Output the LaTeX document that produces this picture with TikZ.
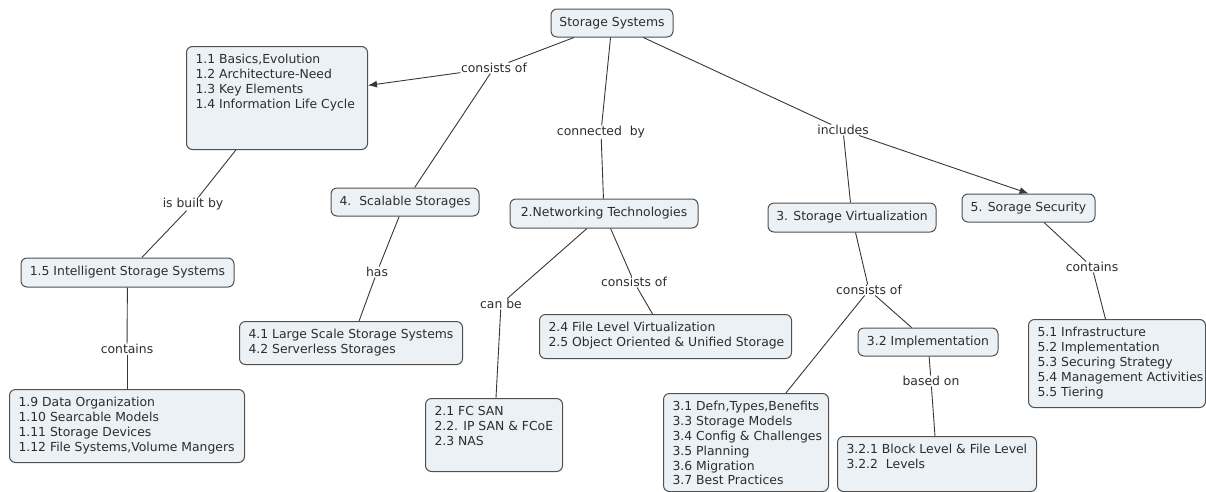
\documentclass[tikz,border=0pt]{standalone}
\usepackage{fontspec}
\setmainfont{DejaVu Sans}
\usetikzlibrary{arrows.meta}
\definecolor{boxfill}{RGB}{235,241,244}
\definecolor{boxline}{RGB}{80,80,80}
\definecolor{txt}{RGB}{45,45,45}
\definecolor{linec}{RGB}{55,55,55}
\newcommand{\lst}[3]{\parbox[c][#2pt][t]{#1pt}{\vspace*{7pt}\begin{tabular}{@{}l@{}}#3\end{tabular}}}
\tikzset{
  concept/.style={draw=boxline, fill=boxfill, rounded corners=6pt, line width=1pt, text=txt, inner sep=0pt},
  single/.style={concept, align=center},
  multi/.style={concept, anchor=north west, inner xsep=9pt, inner ysep=0pt},
  lbl/.style={text=txt, inner sep=0.5pt},
  link/.style={draw=linec, line width=0.9pt},
  arr/.style={link, -{Latex[length=9pt,width=7pt]}}
}
\begin{document}
\begin{tikzpicture}[x=1pt, y=-1pt, font=\fontsize{12.4}{14.8}\selectfont]
\useasboundingbox (0,0) rectangle (1206,491);
\begin{scope}
\clip (0,0) rectangle (1206,491);
% concepts
\node[single, minimum width=122pt, minimum height=28pt] (ss) at (612,23) {Storage Systems};
\node[multi] (b11) at (186,46) {\lst{163}{103}{1.1 Basics,Evolution\\1.2 Architecture-Need\\1.3 Key Elements\\1.4 Information Life Cycle}};
\node[single, minimum width=213pt, minimum height=29pt] (b15) at (127.5,272.5) {1.5 Intelligent Storage Systems};
\node[multi] (b19) at (9,389) {\lst{217}{73}{1.9 Data Organization\\1.10 Searcable Models\\1.11 Storage Devices\\1.12 File Systems,Volume Mangers}};
\node[single, minimum width=148pt, minimum height=28pt] (scal) at (405,202) {4.\ \ Scalable Storages};
\node[multi] (b41) at (239,321) {\lst{205}{43}{4.1 Large Scale Storage Systems\\4.2 Serverless Storages}};
\node[single, minimum width=188pt, minimum height=29pt] (net) at (604,213.5) {2.Networking Technologies};
\node[multi] (b21) at (425,398) {\lst{119}{73}{2.1 FC SAN\\2.2. IP SAN \& FCoE\\2.3 NAS}};
\node[multi] (b24) at (539,314) {\lst{234}{44}{2.4 File Level Virtualization\\2.5 Object Oriented \& Unified Storage}};
\node[single, minimum width=168pt, minimum height=29pt] (sv) at (852,217.5) {3. Storage Virtualization};
\node[single, minimum width=133pt, minimum height=28pt] (sec) at (1028.5,208) {5. Sorage Security};
\node[multi] (b31) at (663,393) {\lst{147}{98}{3.1 Defn,Types,Benefits\\3.3 Storage Models\\3.4 Config \& Challenges\\3.5 Planning\\3.6 Migration\\3.7 Best Practices}};
\node[single, minimum width=140pt, minimum height=28pt] (impl) at (928,342) {3.2 Implementation};
\node[multi] (b321) at (837,436) {\lst{181}{55}{3.2.1 Block Level \& File Level\\3.2.2\ \ Levels}};
\node[multi] (b51) at (1028,319) {\lst{159}{88}{5.1 Infrastructure\\5.2 Implementation\\5.3 Securing Strategy\\5.4 Management Activities\\5.5 Tiering}};
% link labels
\node[lbl] (c1) at (494,68) {consists of};
\node[lbl] (c2) at (601,132) {connected\ \ by};
\node[lbl] (c3) at (843,130) {includes};
\node[lbl] (c4) at (193,204) {is built by};
\node[lbl] (c5) at (127,349) {contains};
\node[lbl] (c6) at (377,272) {has};
\node[lbl] (c7) at (501,304) {can be};
\node[lbl] (c8) at (634,282) {consists of};
\node[lbl] (c9) at (869,290) {consists of};
\node[lbl] (c10) at (931,381) {based on};
\node[lbl] (c11) at (1092,267) {contains};
% connectors
\draw[link] (ss) -- (c1);
\draw[arr] (c1) -- (b11);
\draw[link] (c1) -- (scal);
\draw[link] (ss) -- (c2);
\draw[link] (c2) -- (net);
\draw[link] (ss) -- (c3);
\draw[link] (c3) -- (sv);
\draw[arr] (c3) -- (sec.north);
\draw[link] (b11) -- (c4);
\draw[link] (c4) -- (b15);
\draw[link] (b15) -- (c5);
\draw[link] (c5) -- (b19);
\draw[link] (scal) -- (c6);
\draw[link] (c6) -- (b41);
\draw[link] (net) -- (c7);
\draw[link] (c7) -- (b21);
\draw[link] (net) -- (c8);
\draw[link] (c8) -- (b24);
\draw[link] (sv) -- (c9);
\draw[link] (c9) -- (b31);
\draw[link] (c9) -- (impl);
\draw[link] (impl) -- (c10);
\draw[link] (c10) -- (b321);
\draw[link] (sec) -- (c11);
\draw[link] (c11) -- (b51);
\end{scope}
\end{tikzpicture}
\end{document}
